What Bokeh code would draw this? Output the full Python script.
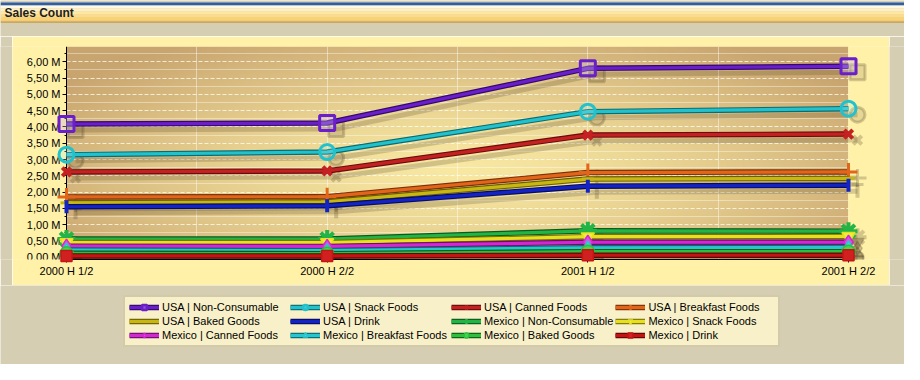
import numpy as np
from bokeh.plotting import figure
from bokeh.layouts import column, row
from bokeh.models import Range1d, FixedTicker, Legend, LegendItem, ColumnDataSource
from bokeh.core.properties import value
from bokeh.embed import file_html
from bokeh.resources import INLINE

# ---------------- data ----------------
title_text = ["Sales Count"]
periods = ["2000 H 1/2", "2000 H 2/2", "2001 H 1/2", "2001 H 2/2"]
x_pos = [0, 1, 2, 3]

series_names = [
    "USA | Non-Consumable", "USA | Snack Foods", "USA | Canned Foods", "USA | Breakfast Foods",
    "USA | Baked Goods", "USA | Drink", "Mexico | Non-Consumable", "Mexico | Snack Foods",
    "Mexico | Canned Foods", "Mexico | Breakfast Foods", "Mexico | Baked Goods", "Mexico | Drink",
]
usa_non_consumable = [4.09, 4.12, 5.80, 5.86]
usa_snack_foods = [3.15, 3.23, 4.47, 4.56]
usa_canned_foods = [2.62, 2.65, 3.75, 3.78]
usa_breakfast_foods = [1.85, 1.86, 2.60, 2.62]
usa_baked_goods = [1.67, 1.70, 2.40, 2.42]
usa_drink = [1.55, 1.58, 2.18, 2.21]
mexico_non_consumable = [0.56, 0.56, 0.81, 0.80]
mexico_snack_foods = [0.45, 0.45, 0.63, 0.64]
mexico_canned_foods = [0.34, 0.33, 0.46, 0.46]
mexico_breakfast_foods = [0.22, 0.20, 0.29, 0.30]
mexico_baked_goods = [0.12, 0.11, 0.17, 0.17]
mexico_drink = [0.04, 0.04, 0.06, 0.06]
series_values = [
    usa_non_consumable, usa_snack_foods, usa_canned_foods, usa_breakfast_foods,
    usa_baked_goods, usa_drink, mexico_non_consumable, mexico_snack_foods,
    mexico_canned_foods, mexico_breakfast_foods, mexico_baked_goods, mexico_drink,
]

y_ticks = [0.0, 0.5, 1.0, 1.5, 2.0, 2.5, 3.0, 3.5, 4.0, 4.5, 5.0, 5.5, 6.0]
y_tick_labels = ["0,00 M", "0,50 M", "1,00 M", "1,50 M", "2,00 M", "2,50 M", "3,00 M",
                 "3,50 M", "4,00 M", "4,50 M", "5,00 M", "5,50 M", "6,00 M"]
y_minor_ticks = [0.25, 0.75, 1.25, 1.75, 2.25, 2.75, 3.25, 3.75, 4.25, 4.75, 5.25, 5.75, 6.25]

# ---------------- styles ----------------
# (line colour, edge colour, marker, size, marker fill, marker fill alpha, marker line width, angle)
styles = [
    ("#6A1FC8", "#33086F", "square", 15, "#C6AEEA", 0.35, 3, 0),
    ("#22C2CC", "#0C6A72", "circle", 15, "#A8EEF0", 0.25, 3, 0),
    ("#C42222", "#6A0C0C", "x", 12, "#C42222", 1.0, 4, 0),
    ("#E2661A", "#7A300A", "cross", 18, "#E2661A", 1.0, 3, 0),
    ("#C8B612", "#6A5E06", "dash", 12, "#F4EC90", 1.0, 3, 0),
    ("#1424C4", "#060C60", "dash", 13, "#1424C4", 1.0, 4, np.pi / 2),
    ("#22B444", "#0A5A1E", "asterisk", 18, "#40E860", 1.0, 4, 0),
    ("#E6E020", "#7A7408", "inverted_triangle", 13, "#F2EC40", 1.0, 1.5, 0),
    ("#D228D2", "#6E0C6E", "diamond", 14, "#E050E0", 1.0, 1.5, 0),
    ("#26C6D0", "#0C6870", "triangle", 12, "#40D8E0", 1.0, 1.5, 0),
    ("#2CC03C", "#0C5C16", "circle", 13, "#40D850", 1.0, 1.5, 0),
    ("#C41414", "#600606", "square", 11, "#D02020", 1.0, 1.5, 0),
]

GRAY = "#D5CEB3"
PANEL = "#FFF1A8"
FONT = "Liberation Sans"
SHADOW = "#4E3E22"

W, H = 904, 364
TOP_H = 36            # title bar + gray gap
MID_H = 249           # yellow panel height
BOT_H = H - TOP_H - MID_H
PANEL_L, PANEL_R = 12, 889


def blank(width, height, xr, yr, bg):
    f = figure(width=width, height=height, x_range=xr, y_range=yr,
               output_backend="svg", toolbar_location=None, tools="",
               x_axis_type=None, y_axis_type=None, min_border=0,
               background_fill_color=bg, border_fill_color=bg, outline_line_color=None)
    f.xgrid.visible = False
    f.ygrid.visible = False
    return f


# ---------------- title strip ----------------
top = blank(W, TOP_H, Range1d(0, W), Range1d(TOP_H, 0), GRAY)
bar_bottoms = [2, 5, 8, 11, 14, 17, 20, 21, 22.3]
bar_colors = ["#2F5EA8", "#FFF8E2", "#FFF0C4", "#FFE7A4", "#FDDC88", "#FAD272", "#F7C860", "#C49A48"]
top.quad(left=0, right=W, top=bar_bottoms[:-1], bottom=bar_bottoms[1:], fill_color=bar_colors,
         line_color=None)
top.text(x=[4], y=[12], text=title_text, text_font=value(FONT), text_font_style="bold",
         text_font_size="12px", text_color="#1E1E1E", text_baseline="middle")

# ---------------- main plot ----------------
main_w = PANEL_R - PANEL_L
brown_l, brown_r, brown_t, brown_b = 54, 836, 10, 223   # local to main figure
ppu = (brown_r - brown_l) / 3.0
x_lo, x_hi = -brown_l / ppu, 3 + (main_w - brown_r) / ppu
y_lo, y_hi = -0.07, 6.47
ppm = (brown_b - brown_t) / (y_hi - y_lo)
shadow_dx = 9 / ppu
shadow_dy = 6 / ppm

p = figure(width=main_w, height=MID_H, x_range=Range1d(x_lo, x_hi), y_range=Range1d(y_lo, y_hi),
           output_backend="svg", toolbar_location=None, tools="",
           min_border_left=0, min_border_right=0,
           min_border_top=brown_t, min_border_bottom=MID_H - brown_b,
           background_fill_color=PANEL, border_fill_color=PANEL, outline_line_color=None)

# plot-area gradient background
nx, ny = 391, 107
U, V = np.meshgrid(np.linspace(0, 1, nx), np.linspace(0, 1, ny))
d = np.sqrt(((U - 0.5) / 0.62) ** 2 + ((V - 0.42) / 0.72) ** 2)
t = np.clip(d, 0, 1) ** 1.4
light = np.array([248, 232, 162.0])
tan = np.array([200, 164, 110.0])
rgb = light[None, None, :] * (1 - t)[..., None] + tan[None, None, :] * t[..., None]
img = np.empty((ny, nx), dtype=np.uint32)
view = img.view(dtype=np.uint8).reshape((ny, nx, 4))
view[..., 0] = rgb[..., 0].astype(np.uint8)
view[..., 1] = rgb[..., 1].astype(np.uint8)
view[..., 2] = rgb[..., 2].astype(np.uint8)
view[..., 3] = 255
p.image_rgba(image=[img], x=0, y=y_lo, dw=3, dh=y_hi - y_lo, level="image")
# panel colour over the margins left and right of the plot area (hides grid overflow)
p.quad(left=[x_lo, 3], right=[0, x_hi], bottom=y_lo, top=y_hi, fill_color=PANEL, line_color=None)

# grids
p.ygrid.grid_line_color = "white"
p.ygrid.grid_line_alpha = 0.75
p.ygrid.grid_line_dash = "4 2"
p.ygrid.minor_grid_line_color = "white"
p.ygrid.minor_grid_line_alpha = 0.4
p.xgrid.grid_line_color = "white"
p.xgrid.grid_line_alpha = 0.45
p.xgrid.minor_grid_line_color = "white"
p.xgrid.minor_grid_line_alpha = 0.45

# axes
p.xaxis.ticker = FixedTicker(ticks=x_pos, minor_ticks=[0.5, 1.5, 2.5])
p.xaxis.major_label_overrides = {x: lab for x, lab in zip(x_pos, periods)}
p.xaxis.bounds = (0, 3)
p.xaxis.minor_tick_line_color = None
p.xaxis.major_tick_in = 0
p.xaxis.major_tick_out = 3
p.xaxis.major_label_standoff = 1
p.yaxis.ticker = FixedTicker(ticks=y_ticks, minor_ticks=y_minor_ticks)
p.yaxis.major_label_overrides = {v: lab for v, lab in zip(y_ticks, y_tick_labels)}
p.yaxis.fixed_location = 0
p.yaxis.major_tick_in = 0
p.yaxis.major_tick_out = 4
p.yaxis.minor_tick_in = 0
p.yaxis.minor_tick_out = 2
p.yaxis.major_label_standoff = 2
for ax in (p.xaxis, p.yaxis):
    ax.axis_line_color = "black"
    ax.major_tick_line_color = "black"
    ax.major_label_text_font = FONT
    ax.major_label_text_font_size = "11px"
    ax.major_label_text_color = "black"
p.yaxis.minor_tick_line_color = "black"

# series
for name, vals, st in zip(series_names, series_values, styles):
    col, edge, mk, size, mfill, malpha, mlw, ang = st
    src = ColumnDataSource(dict(x=x_pos, y=vals))
    sh = ColumnDataSource(dict(x=[v + shadow_dx for v in x_pos], y=[v - shadow_dy for v in vals]))
    p.line("x", "y", source=sh, line_color=SHADOW, line_alpha=0.22, line_width=5)
    p.scatter("x", "y", source=sh, marker=mk, size=size, angle=ang, line_color=SHADOW,
              line_alpha=0.25, fill_color=SHADOW, fill_alpha=0.15 if malpha < 1 else 0.25,
              line_width=mlw)
    p.line("x", "y", source=src, line_color=edge, line_width=5.5, level="overlay")
    p.line("x", "y", source=src, line_color=col, line_width=3.2, level="overlay")
    p.scatter("x", "y", source=src, marker=mk, size=size, angle=ang, line_color=col,
              line_width=mlw, fill_color=mfill, fill_alpha=malpha, level="overlay")

left_pad = blank(PANEL_L, MID_H, Range1d(0, 1), Range1d(0, 1), GRAY)
right_pad = blank(W - PANEL_R, MID_H, Range1d(0, 1), Range1d(0, 1), GRAY)

# ---------------- legend strip ----------------
bot = blank(W, BOT_H, Range1d(0, W), Range1d(0, BOT_H), GRAY)
items = []
for name, st in zip(series_names, styles):
    col, edge, mk, size, mfill, malpha, mlw, ang = st
    proxy = ColumnDataSource(dict(x=[np.nan], y=[np.nan]))   # legend-only proxy, draws nothing
    r1 = bot.line("x", "y", source=proxy, line_color=edge, line_width=5.5)
    r2 = bot.line("x", "y", source=proxy, line_color=col, line_width=3.2)
    r3 = bot.scatter("x", "y", source=proxy, marker=mk, size=size, angle=ang, line_color=col,
                     line_width=min(mlw, 2.5), fill_color=mfill, fill_alpha=malpha)
    items.append(LegendItem(label=name, renderers=[r1, r2, r3]))

legend = Legend(items=items, orientation="horizontal", ncols=4, location=(123, 17),
                background_fill_color="#F8F0C8", background_fill_alpha=1.0,
                border_line_color="#ABA48A", border_line_width=2,
                padding=4, margin=0, spacing=2, glyph_width=30, glyph_height=12,
                label_height=12, label_width=126, label_standoff=3, label_text_font=FONT,
                label_text_font_size="11px", label_text_color="black")
bot.add_layout(legend, "center")

layout = column(top, row(left_pad, p, right_pad), bot)
open("out.html", "w").write(file_html(layout, INLINE))
